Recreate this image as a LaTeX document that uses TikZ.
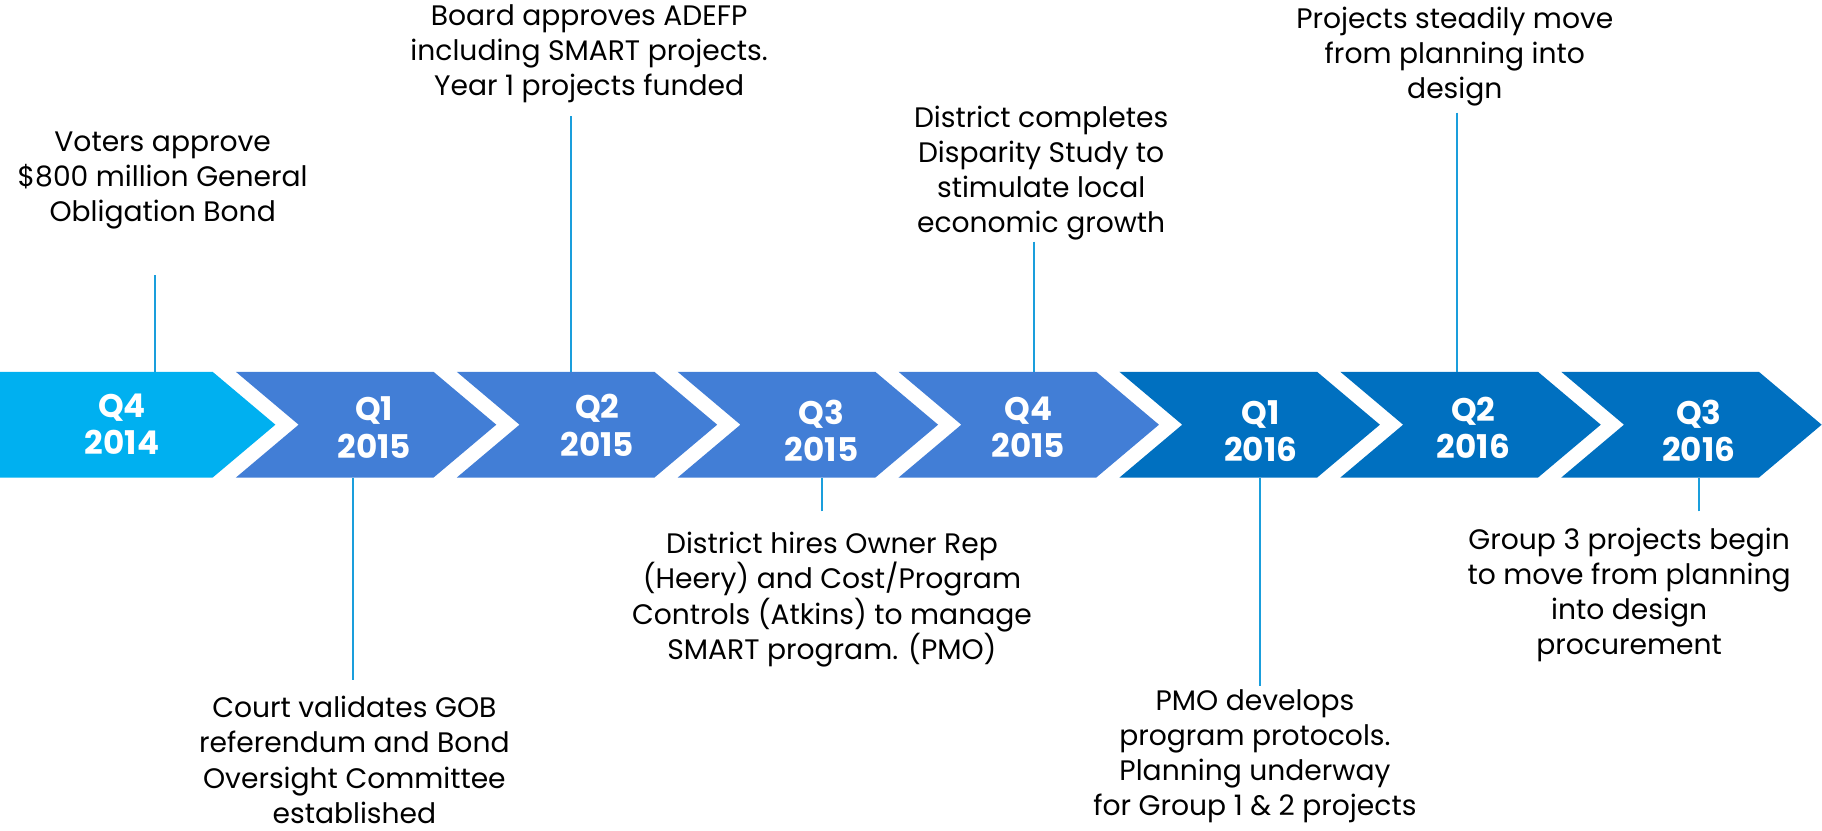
\documentclass[tikz,border=0pt]{standalone}
\usepackage{fontspec}
\setmainfont{Poppins}
\definecolor{cyanc}{RGB}{0,176,240}
\definecolor{midc}{RGB}{66,126,214}
\definecolor{darkc}{RGB}{0,112,192}
\definecolor{connc}{RGB}{26,158,220}
\newcommand\mychev[3]{\fill[#3] ({#1-54},320) -- ({#2-54},320) -- (#2,365.5) -- ({#2-54},411) -- ({#1-54},411) -- (#1,365.5) -- cycle;}
\begin{document}
\begin{tikzpicture}[x=0.02cm,y=-0.02cm,
  lbl/.style={font=\fontsize{13.8}{17.2}\selectfont, align=center, text=black, inner sep=0pt},
  qlbl/.style={font=\bfseries\fontsize{16}{18.2}\selectfont, align=center, text=white, inner sep=0pt},
  conn/.style={draw=connc, line width=1pt}]
\useasboundingbox (0,0) rectangle (1568,715);
% chevrons
\fill[cyanc] (0,320) -- (183,320) -- (237,365.5) -- (183,411) -- (0,411) -- cycle;
\mychev{257}{427.1}{midc}
\mychev{447.1}{617.2}{midc}
\mychev{637.2}{807.3}{midc}
\mychev{827.3}{997.4}{midc}
\mychev{1017.4}{1187.5}{darkc}
\mychev{1207.5}{1377.6}{darkc}
\mychev{1397.6}{1567.7}{darkc}
% quarter labels
\node[qlbl] (q0) at (105,365) {Q4\\2014};
\node[qlbl] (q1) at (322,368) {Q1\\2015};
\node[qlbl] (q2) at (514,366) {Q2\\2015};
\node[qlbl] (q3) at (707,371) {Q3\\2015};
\node[qlbl] (q4) at (885,368) {Q4\\2015};
\node[qlbl] (q5) at (1085,371) {Q1\\2016};
\node[qlbl] (q6) at (1268,368) {Q2\\2016};
\node[qlbl] (q7) at (1462,371) {Q3\\2016};
% annotations
\node[lbl] (t1) at (140,155) {Voters approve\\\$800 million General\\Obligation Bond};
\node[lbl] (t2) at (507,46) {Board approves ADEFP\\including SMART projects.\\Year 1 projects funded};
\node[lbl] (t3) at (896,149) {District completes\\Disparity Study to\\stimulate local\\economic growth};
\node[lbl] (t4) at (1252,49) {Projects steadily move\\from planning into\\design};
\node[lbl] (t5) at (305,654) {Court validates GOB\\referendum and Bond\\Oversight Committee\\established};
\node[lbl] (t6) at (716,516) {District hires Owner Rep\\(Heery) and Cost/Program\\Controls (Atkins) to manage\\SMART program. (PMO)};
\node[lbl] (t7) at (1080,651) {PMO develops\\program protocols.\\Planning underway\\for Group 1 \& 2 projects};
\node[lbl] (t8) at (1402,512) {Group 3 projects begin\\to move from planning\\into design\\procurement};
% connector end points
\coordinate (a1) at (133,237); \coordinate (b1) at (133,320);
\coordinate (a2) at (491,100); \coordinate (b2) at (491,320);
\coordinate (a3) at (890,208); \coordinate (b3) at (890,320);
\coordinate (a4) at (1254,97); \coordinate (b4) at (1254,320);
\coordinate (a5) at (304,585); \coordinate (b5) at (304,411);
\coordinate (a6) at (707,440); \coordinate (b6) at (707,411);
\coordinate (a7) at (1084,590); \coordinate (b7) at (1084,411);
\coordinate (a8) at (1462,440); \coordinate (b8) at (1462,411);
\foreach \k in {1,...,8} {\draw[conn] (a\k) -- (b\k);}
\end{tikzpicture}
\end{document}
